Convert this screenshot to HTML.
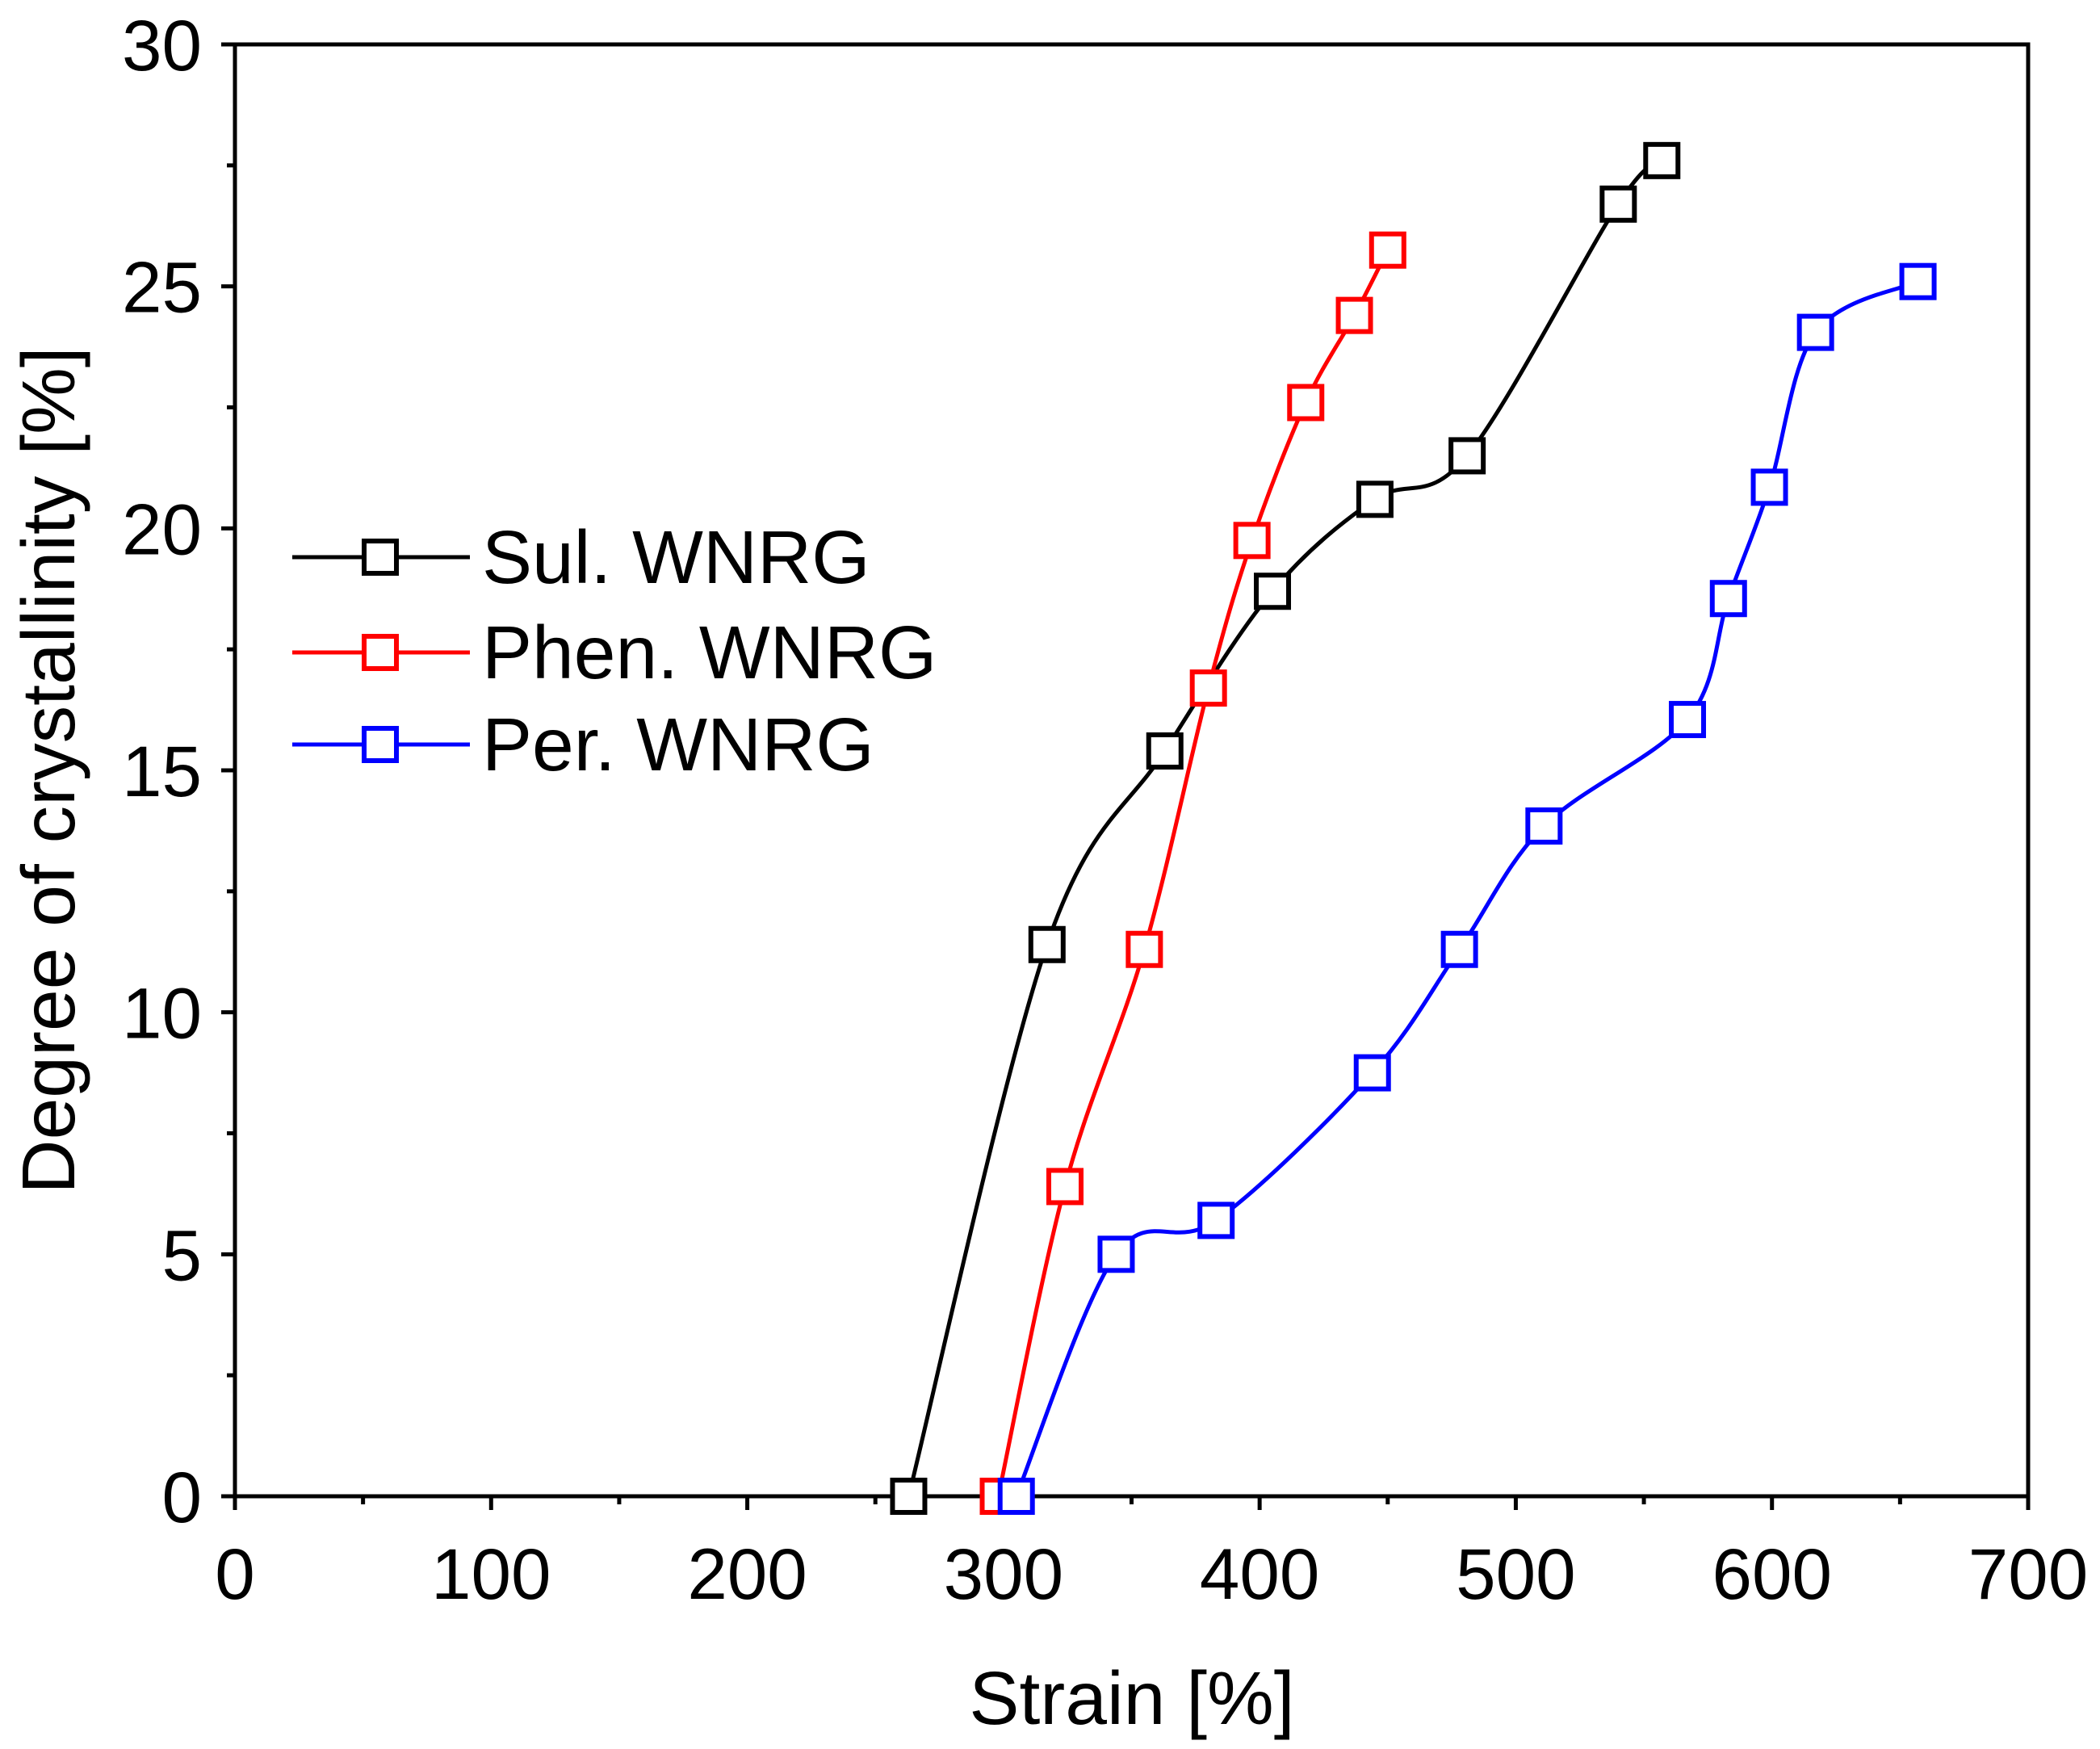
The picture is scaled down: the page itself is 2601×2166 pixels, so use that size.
<!DOCTYPE html>
<html><head><meta charset="utf-8"><style>html,body{margin:0;padding:0;background:#fff}svg{display:block}text{font-family:"Liberation Sans",Arial,sans-serif;fill:#000}</style></head>
<body>
<svg id="chart" width="2601" height="2166" viewBox="0 0 2601 2166" xmlns="http://www.w3.org/2000/svg">
<g id="axes"></g><g id="series"></g><g id="legend"></g>
</svg>
<script>
const xTicks=[0,100,200,300,400,500,600,700];
const yTicks=[0,5,10,15,20,25,30];
const seriesNames=["Sul. WNRG","Phen. WNRG","Per. WNRG"];
const seriesColors=["#000000","#ff0000","#0000ff"];
const sulX=[263,317,363,405,445,481,540,557];
const sulY=[0,11.4,15.4,18.7,20.6,21.5,26.7,27.6];
const phenX=[298,324,355,380,397,418,437,450];
const phenY=[0,6.4,11.3,16.7,19.75,22.6,24.4,25.75];
const perX=[305,344,383,444,478,511,567,583,599,617,657];
const perY=[0,5.0,5.7,8.75,11.3,13.85,16.05,18.55,20.85,24.05,25.1];
const L=291,R=2512,T=55,B=1853;
const sx=v=>L+(v-0)/700*(R-L);
const sy=v=>B-(v-0)/30*(B-T);
const NS="http://www.w3.org/2000/svg";
function mk(tag,attrs,parent){const e=document.createElementNS(NS,tag);for(const k in attrs)e.setAttribute(k,attrs[k]);parent.appendChild(e);return e;}
const axes=document.getElementById('axes');
const frame=mk('rect',{x:L,y:T,width:R-L,height:B-T,fill:'none',stroke:'#000','stroke-width':5},axes);


xTicks.forEach((v,i)=>{
  const t=mk('line',{x1:sx(v),x2:sx(v),y1:B,y2:B+17,stroke:'#000','stroke-width':5},axes);
  
  
  if(i<xTicks.length-1){const m=mk('line',{x1:sx(v+50),x2:sx(v+50),y1:B,y2:B+10,stroke:'#000','stroke-width':5},axes);
  
  }
  const lb=mk('text',{x:sx(v),y:1980,'font-size':89,'text-anchor':'middle'},axes);lb.textContent=v;
  
  
});
yTicks.forEach((v,i)=>{
  const t=mk('line',{x1:L-17,x2:L,y1:sy(v),y2:sy(v),stroke:'#000','stroke-width':5},axes);
  
  
  if(i<yTicks.length-1){const m=mk('line',{x1:L-10,x2:L,y1:sy(v+2.5),y2:sy(v+2.5),stroke:'#000','stroke-width':5},axes);
  
  }
  const lb=mk('text',{x:250,y:sy(v)+32,'font-size':89,'text-anchor':'end'},axes);lb.textContent=v;
  
  
});
const xt=mk('text',{x:1402,y:2135,'font-size':93,'text-anchor':'middle'},axes);xt.textContent='Strain [%]';


const yt=mk('text',{x:0,y:0,'font-size':93,'text-anchor':'middle',transform:'translate(92,954) rotate(-90)'},axes);yt.textContent='Degree of crystallinity [%]';


function spline(px,py){
  const p=px.map((x,i)=>[x,py[i]]);let d='M'+p[0][0]+','+p[0][1];
  for(let i=0;i<p.length-1;i++){const p0=p[Math.max(0,i-1)],p1=p[i],p2=p[i+1],p3=p[Math.min(p.length-1,i+2)];
    const c1=[p1[0]+(p2[0]-p0[0])/6,p1[1]+(p2[1]-p0[1])/6],c2=[p2[0]-(p3[0]-p1[0])/6,p2[1]-(p3[1]-p1[1])/6];
    d+=' C'+c1+' '+c2+' '+p2;}
  return d;}
const ser=document.getElementById('series');
const allX=[sulX,phenX,perX],allY=[sulY,phenY,perY],keys=['sul','phen','per'];
allX.forEach((xs,s)=>{
  const px=xs.map(sx),py=allY[s].map(sy);
  const ln=mk('path',{d:spline(px,py),fill:'none',stroke:seriesColors[s],'stroke-width':5},ser);
  
  
  px.forEach((x,i)=>{const r=mk('rect',{x:x-20,y:py[i]-20,width:40,height:40,fill:'#fff',stroke:seriesColors[s],'stroke-width':6},ser);
    
    });
});
const lg=document.getElementById('legend');
[690,808,922].forEach((y,s)=>{
  const l=mk('line',{x1:362,x2:582,y1:y,y2:y,stroke:seriesColors[s],'stroke-width':5},lg);
  
  
  const r=mk('rect',{x:451,y:y-20,width:40,height:40,fill:'#fff',stroke:seriesColors[s],'stroke-width':6},lg);
  
  
  const t=mk('text',{x:597,y:y+32,'font-size':93},lg);t.textContent=seriesNames[s];
  
  
});
</script>
</body></html>
